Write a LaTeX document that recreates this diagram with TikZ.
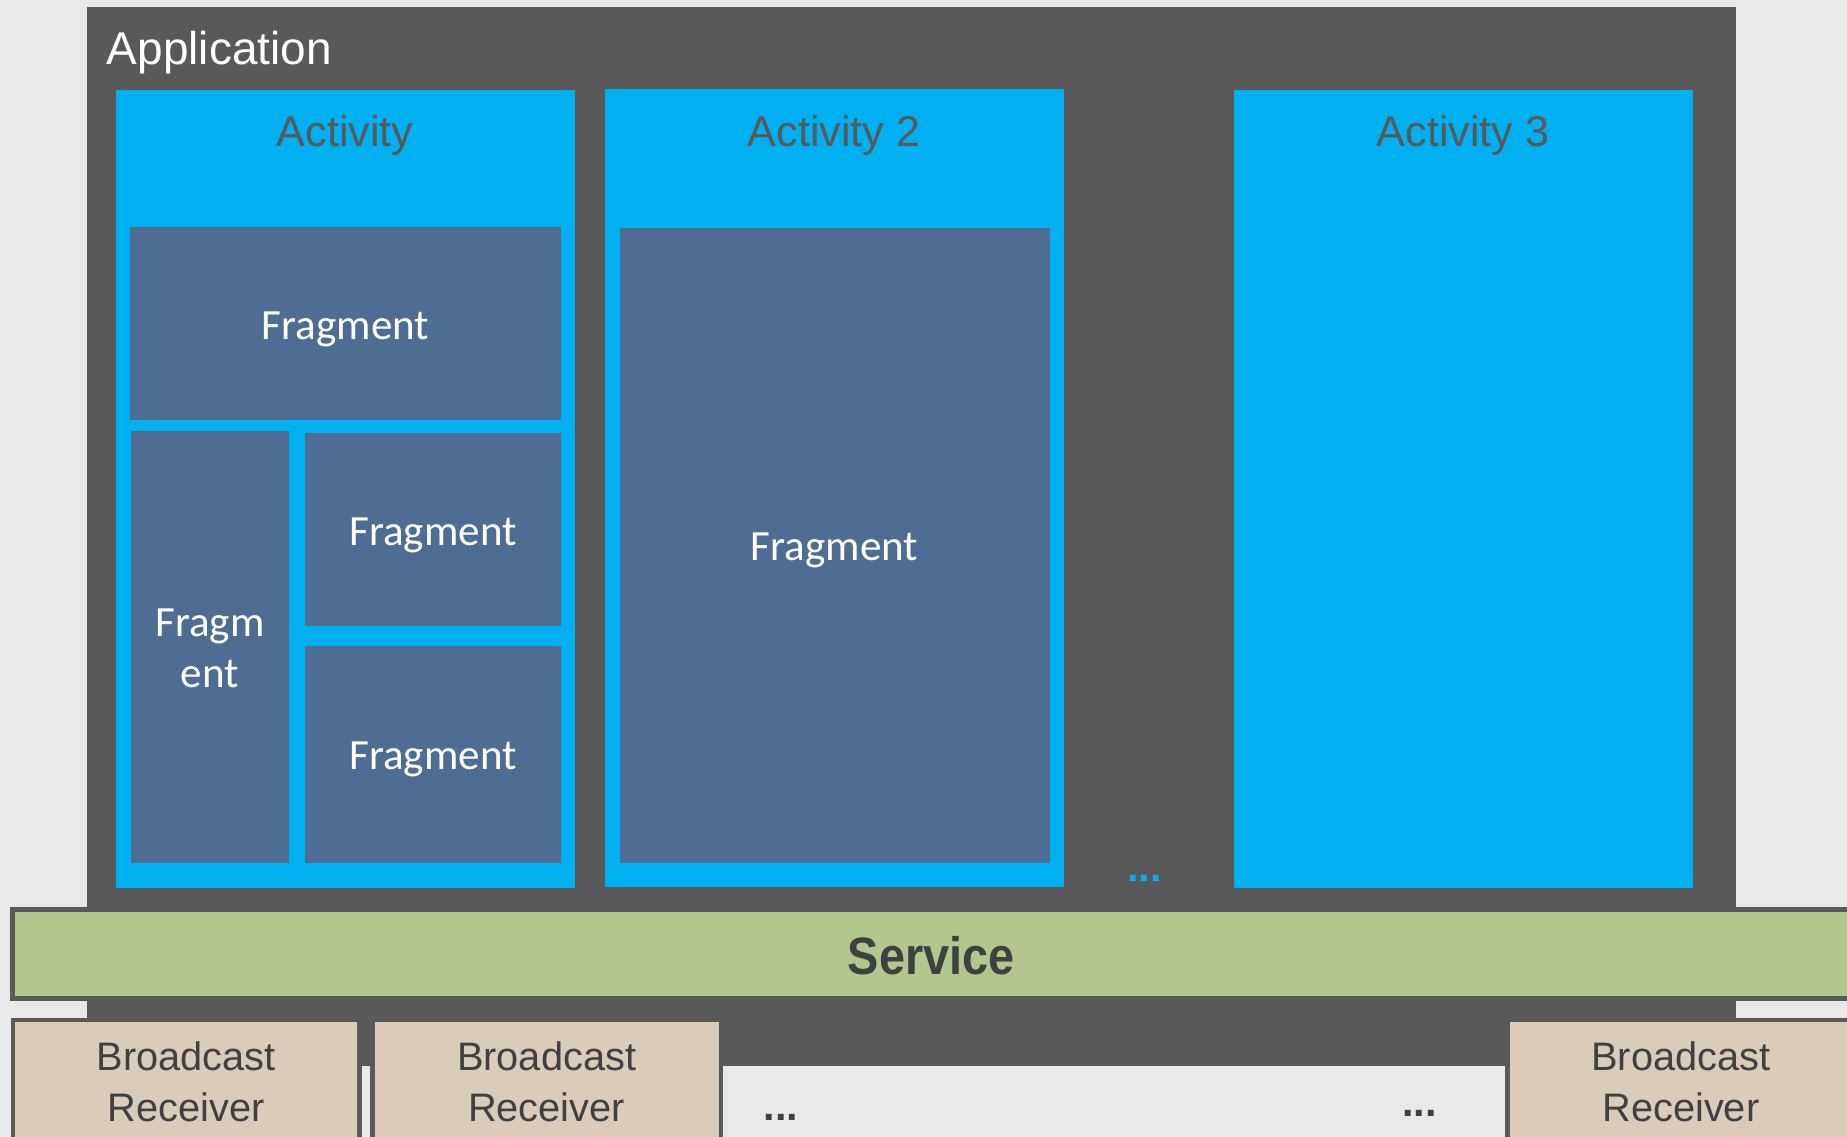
\documentclass[tikz,border=0pt]{standalone}
\usepackage{fontspec}
\setmainfont{Liberation Sans}
\newfontfamily\fragfont{Carlito}
\usepackage{graphicx}
\definecolor{bgc}{HTML}{E9E9E9}
\definecolor{appc}{HTML}{595959}
\definecolor{actc}{HTML}{00B0F0}
\definecolor{fragc}{HTML}{4F6D92}
\definecolor{servc}{HTML}{B2C78D}
\definecolor{recvc}{HTML}{DACCB9}
\definecolor{darktext}{HTML}{404040}
\tikzset{
  actbox/.style={fill=actc},
  fragbox/.style={fill=fragc},
  acttitle/.style={anchor=base, inner sep=0pt, text=appc, font=\fontsize{10.4}{12.5}\selectfont},
  fragtext/.style={anchor=base, inner sep=0pt, text=white, align=center, font=\fragfont\fontsize{10.4}{12.24}\selectfont},
  recvbox/.style={fill=recvc, draw=appc, line width=0.04cm},
  recvtext/.style={anchor=base, inner sep=0pt, text=darktext, align=center, font=\fontsize{9.6}{12.24}\selectfont},
  dots/.style={anchor=base, inner sep=0pt, font=\bfseries\fontsize{10}{12}\selectfont}
}
\begin{document}
\begin{tikzpicture}[x=0.01cm,y=-0.01cm]
\useasboundingbox (0,0) rectangle (1568,965);
\clip (0,0) rectangle (1568,965);
\fill[bgc] (0,0) rectangle (1568,965);
% application
\fill[appc] (74,6) rectangle (1473.5,905);
\node[anchor=base west, inner sep=0pt, text=white, font=\fontsize{11.1}{13}\selectfont] (app) at (90,55) {Application};
% activity 1
\fill[actbox] (98.5,76.4) rectangle (488,753.5);
\node[acttitle] (act1) at (293,124) {Activity};
\fill[fragbox] (110.5,193) rectangle (476.2,356.5);
\node[fragtext] (f1) at (293.3,288) {Fragment};
\fill[fragbox] (111.2,366) rectangle (245.3,732.3);
\node[fragtext] (f2) at (178.2,583.5) {Fragm\\ent};
\fill[fragbox] (259,367.8) rectangle (476.2,531.4);
\node[fragtext] (f3) at (367.6,463.2) {Fragment};
\fill[fragbox] (259,548.4) rectangle (476.2,732.3);
\node[fragtext] (f4) at (367.6,653) {Fragment};
% activity 2
\fill[actbox] (513.5,75.5) rectangle (903,753);
\node[acttitle] (act2) at (708,124) {Activity 2};
\fill[fragbox] (526,193.6) rectangle (891,732.5);
\node[fragtext] (f5) at (708.5,476) {Fragment};
% dots
\node[dots, text=actc] (adots) at (971.5,748) {...};
% activity 3
\fill[actbox] (1047.5,76) rectangle (1437,753.5);
\node[acttitle] (act3) at (1242,124) {Activity 3};
% service
\draw[fill=servc, draw=appc, line width=0.04cm] (10.6,772) rectangle (1600,847.5);
\node[anchor=base, inner sep=0pt, text=darktext, font=\bfseries\fontsize{12.7}{15}\selectfont] (serv) at (790.5,827) {\scalebox{0.89}[1]{Service}};
% receivers
\draw[recvbox] (11,866) rectangle (305,1000);
\node[recvtext] (r1) at (158,952) {Broadcast\\Receiver};
\draw[recvbox] (316,866) rectangle (612,1000);
\node[recvtext] (r2) at (464,952) {Broadcast\\Receiver};
\draw[recvbox] (1280,866) rectangle (1600,1000);
\node[recvtext] (r3) at (1427,952) {Broadcast\\Receiver};
\node[dots, text=darktext] (bdots1) at (663,951) {...};
\node[dots, text=darktext] (bdots2) at (1205,948) {...};
\end{tikzpicture}
\end{document}
